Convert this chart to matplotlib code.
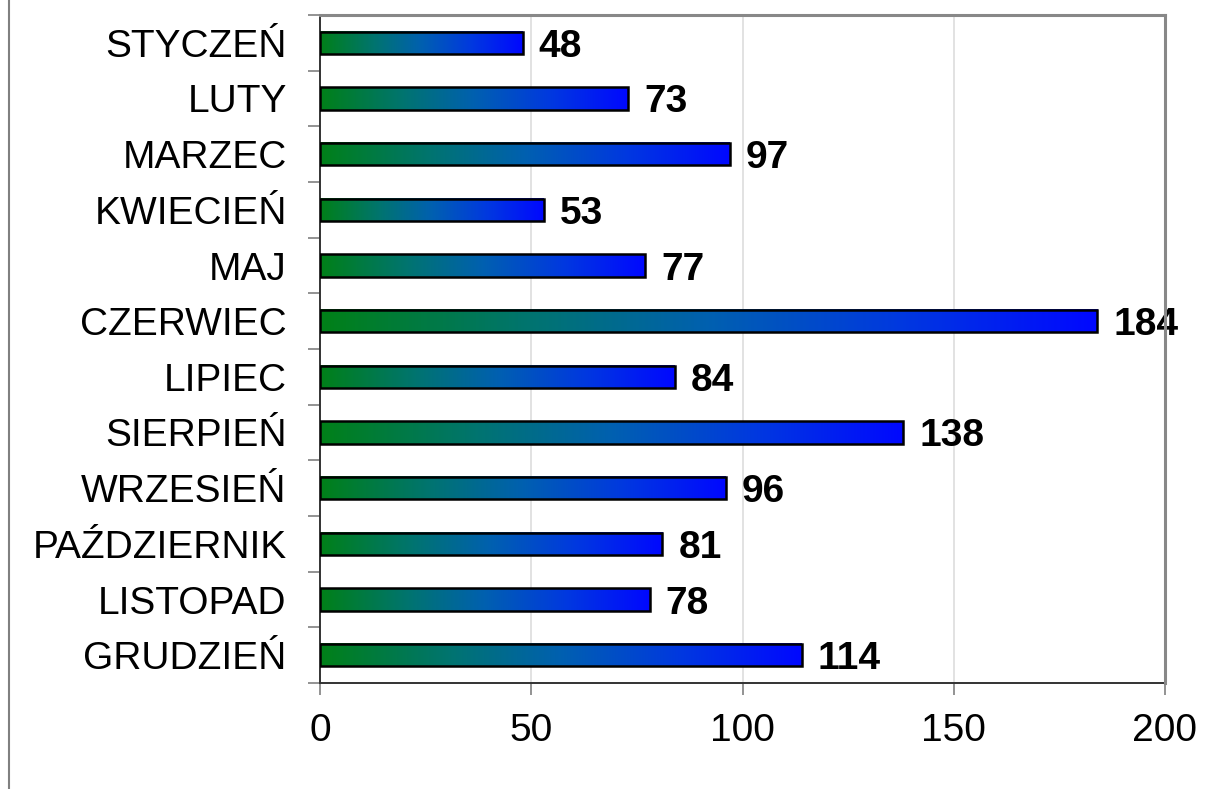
import numpy as np
from matplotlib import pyplot as plt
from matplotlib.colors import LinearSegmentedColormap
from matplotlib.lines import Line2D

# monthly counts, top to bottom
months = ['STYCZEŃ', 'LUTY', 'MARZEC', 'KWIECIEŃ', 'MAJ', 'CZERWIEC',
          'LIPIEC', 'SIERPIEŃ', 'WRZESIEŃ', 'PAŹDZIERNIK', 'LISTOPAD', 'GRUDZIEŃ']
values = [48, 73, 97, 53, 77, 184, 84, 138, 96, 81, 78, 114]
xticks = [0, 50, 100, 150, 200]

plt.rcParams['font.family'] = ['Liberation Sans', 'DejaVu Sans']

grad = LinearSegmentedColormap.from_list(
    'gb', [(0.0, '#008018'), (0.27, '#007470'), (0.5, '#0060b0'),
           (0.75, '#0038e0'), (1.0, '#0008ff')])


def draw_bars(ax, h=0.4):
    n = len(values)
    ramp = np.linspace(0, 1, 256).reshape(1, -1)
    for i, v in enumerate(values):
        y = n - 1 - i
        ax.imshow(ramp, cmap=grad, aspect='auto', interpolation='bilinear',
                  extent=[0, v, y - h / 2, y + h / 2], zorder=2)
        ax.add_patch(plt.Rectangle((0, y - h / 2), v, h, fill=False,
                                   edgecolor='black', linewidth=1.8, zorder=3))
        ax.text(v + 3.8, y, str(v), fontsize=28, fontweight='bold',
                va='center_baseline', ha='left', zorder=1)


fig = plt.figure(figsize=(12.15, 7.89), dpi=100)
ax = fig.add_axes([320 / 1215, 1 - 683 / 789, 845 / 1215, 668 / 789])
draw_bars(ax)

n = len(months)
ax.set_xlim(0, 200)
ax.set_ylim(-0.5, n - 0.5)
ax.set_xticks(xticks)
ax.set_xticklabels([str(t) for t in xticks], fontsize=28)
ax.set_yticks(np.arange(n))
ax.set_yticklabels(months[::-1], fontsize=28)
ax.set_yticks(np.arange(n + 1) - 0.5, minor=True)
ax.tick_params(axis='y', which='major', length=0, pad=24)
ax.tick_params(axis='y', which='minor', length=8.6, color='#808080', width=1.2)
ax.tick_params(axis='x', length=8.6, color='#808080', width=1.2, pad=13)
ax.grid(axis='x', color='#dddddd', linewidth=1.2, zorder=0)
ax.set_axisbelow(True)

for side in ['top', 'right']:
    ax.spines[side].set_color('#888888')
    ax.spines[side].set_linewidth(2.2)
    ax.spines[side].set_zorder(5)
for side in ['left', 'bottom']:
    ax.spines[side].set_color('#333333')
    ax.spines[side].set_linewidth(1.4)

fig.add_artist(Line2D([9 / 1215, 9 / 1215], [0, 1], color='#808080',
                      linewidth=1.5, transform=fig.transFigure))

fig.savefig('out.png', dpi=100)
